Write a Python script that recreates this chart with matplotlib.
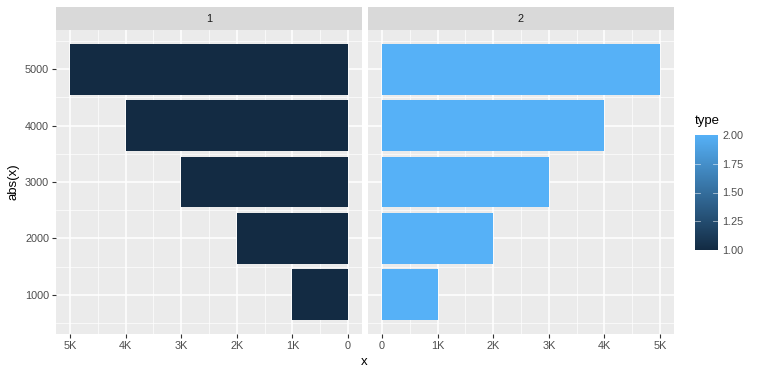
import matplotlib.pyplot as plt
import numpy as np
from matplotlib.colors import LinearSegmentedColormap
from matplotlib.ticker import FuncFormatter

plt.rcParams['font.family'] = ['Liberation Sans', 'DejaVu Sans']

# data
facets = ['1', '2']
x_left = [-1000, -2000, -3000, -4000, -5000]
x_right = [1000, 2000, 3000, 4000, 5000]
type_vals = [1, 2]
low_col, high_col = '#132B43', '#56B1F7'
cmap = LinearSegmentedColormap.from_list('gg', [low_col, high_col])

W, H = 763, 376
fig = plt.figure(figsize=(W / 100, H / 100), dpi=100)


def box(x0, y0, x1, y1):
    return [x0 / W, 1 - y1 / H, (x1 - x0) / W, (y1 - y0) / H]


def kfmt(v, pos):
    v = abs(v)
    return '0' if v == 0 else f'{v / 1000:g}K'


panels = [(56, 362, x_left, type_vals[0]), (368, 674, x_right, type_vals[1])]
tc = '#4D4D4D'
for i, (px0, px1, xs, t) in enumerate(panels):
    ax = fig.add_axes(box(px0, 30, px1, 334))
    ax.set_facecolor('#EBEBEB')
    ys = [abs(v) for v in xs]
    col = cmap((t - 1) / 1)
    ax.barh(ys, xs, height=900, color=col, zorder=3)
    if i == 0:
        ax.set_xticks([-5000, -4000, -3000, -2000, -1000, 0])
        ax.set_xticks(np.arange(-4500, 0, 1000), minor=True)
        ax.set_xlim(-5250, 250)
    else:
        ax.set_xticks([0, 1000, 2000, 3000, 4000, 5000])
        ax.set_xticks(np.arange(500, 5000, 1000), minor=True)
        ax.set_xlim(-250, 5250)
    ax.xaxis.set_major_formatter(FuncFormatter(kfmt))
    ax.set_yticks([1000, 2000, 3000, 4000, 5000])
    ax.set_yticks(np.arange(500, 6000, 1000), minor=True)
    ax.set_ylim(305, 5695)
    ax.grid(True, which='major', color='white', lw=1.1, zorder=1)
    ax.grid(True, which='minor', color='white', lw=0.5, zorder=1)
    for s in ax.spines.values():
        s.set_visible(False)
    ax.tick_params(which='major', length=3, width=0.8, color='#333333',
                   labelsize=7.8, labelcolor=tc, pad=2)
    ax.tick_params(which='minor', length=0)
    if i == 1:
        ax.tick_params(axis='y', left=False, labelleft=False)
    else:
        ax.set_ylabel('abs(x)', fontsize=9.5, color='black', labelpad=4)
    # strip
    sax = fig.add_axes(box(px0, 7, px1, 30))
    sax.set_facecolor('#D9D9D9')
    sax.set_xticks([])
    sax.set_yticks([])
    for s in sax.spines.values():
        s.set_visible(False)
    sax.text(0.5, 0.5, facets[i], ha='center', va='center', fontsize=7.8,
             color='#1A1A1A', transform=sax.transAxes)

fig.text(364 / W, 1 - 362 / H, 'x', ha='center', va='center', fontsize=9.5)

# colour bar legend
cax = fig.add_axes(box(695, 135, 718, 250))
grad = np.linspace(1, 2, 256).reshape(-1, 1)
cax.imshow(grad, aspect='auto', cmap=cmap, origin='lower',
           extent=[0, 1, 1, 2])
cb_ticks = [1.00, 1.25, 1.50, 1.75, 2.00]
for v in cb_ticks:
    if 1 < v < 2:
        cax.plot([0, 0.2], [v, v], color='white', lw=0.6, alpha=0.6)
        cax.plot([0.8, 1], [v, v], color='white', lw=0.6, alpha=0.6)
cax.set_xlim(0, 1)
cax.set_ylim(1, 2)
cax.set_xticks([])
cax.yaxis.tick_right()
cax.set_yticks(cb_ticks)
cax.set_yticklabels([f'{v:.2f}' for v in cb_ticks])
cax.tick_params(axis='y', length=0, labelsize=7.8, labelcolor=tc, pad=3)
for s in cax.spines.values():
    s.set_visible(False)
fig.text(695 / W, 1 - 121 / H, 'type', ha='left', va='center', fontsize=9.5)

fig.savefig('out.png', dpi=100)
